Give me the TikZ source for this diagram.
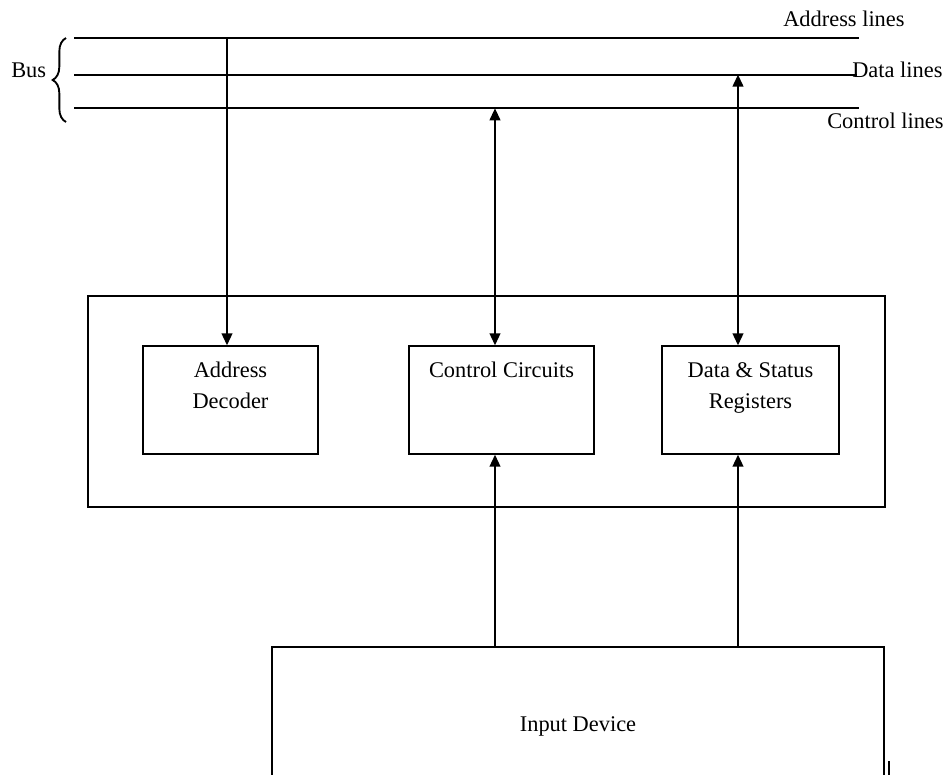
\documentclass[tikz,border=0pt]{standalone}
\usepackage{fontspec}
\setmainfont{Liberation Serif}
\usetikzlibrary{arrows.meta,fit,decorations.pathreplacing}
\begin{document}
\begin{tikzpicture}[x=0.75pt,y=-0.75pt,
  box/.style={draw, line width=1pt, inner sep=0pt},
  busline/.style={line width=1.5pt},
  link/.style={line width=1.5pt},
  >={Triangle[length=9pt,width=8pt]},
  lbl/.style={font=\fontsize{16.8}{20}\selectfont, inner sep=0pt},
]
\useasboundingbox (0,0) rectangle (943,775);
\clip (0,0) rectangle (943,775);

% system bus
\coordinate (aL) at (74,38.3);  \coordinate (aR) at (859,38.3);
\coordinate (dL) at (74,74.6);  \coordinate (dR) at (857,74.6);
\coordinate (cL) at (74,108.3); \coordinate (cR) at (859,108.3);
\draw[busline] (aL) -- (aR);
\draw[busline] (dL) -- (dR);
\draw[busline] (cL) -- (cR);

\coordinate (bB) at (66,122);
\coordinate (bT) at (66,38);
\draw[line width=1.4pt, decorate, decoration={brace, amplitude=10pt}] (bB) -- (bT);
\node[lbl, anchor=base west] (bus) at (11,77) {Bus};

\node[lbl, anchor=base west] (alab) at (783,26)  {Address lines};
\node[lbl, anchor=base west] (dlab) at (852,77)  {Data lines};
\node[lbl, anchor=base west] (clab) at (827,128) {Control lines};

% interface circuit
\node[box, fit={(88,296) (885,507)}] (iface) {};
\node[box, fit={(143,346) (318,454)}] (ad) {};
\node[box, fit={(409,346) (594,454)}] (cc) {};
\node[box, fit={(662,346) (839,454)}] (ds) {};

\node[lbl, anchor=base] (ad1) at (230.5,377) {Address};
\node[lbl, anchor=base] (ad2) at (230.5,408) {Decoder};
\node[lbl, anchor=base] (cc1) at (501.5,377) {Control Circuits};
\node[lbl, anchor=base] (ds1) at (750.5,377) {Data \& Status};
\node[lbl, anchor=base] (ds2) at (750.5,408) {Registers};

% input device
\node[box, fit={(272,647) (884,800)}] (inp) {};
\node[lbl, anchor=base] (inpt) at (578,731) {Input Device};
\coordinate (t1) at (889,761);
\coordinate (t2) at (889,775);
\draw[line width=1pt] (t1) -- (t2);

% connections
\coordinate (aT) at (227,38.3);
\coordinate (cT) at (495,108.3);
\coordinate (dT) at (738,74.6);
\draw[link,->] (aT) -- (aT |- ad.north);
\draw[link,<->] (cT) -- (cT |- cc.north);
\draw[link,<->] (dT) -- (dT |- ds.north);
\draw[link,->] (cT |- inp.north) -- (cT |- cc.south);
\draw[link,->] (dT |- inp.north) -- (dT |- ds.south);
\end{tikzpicture}
\end{document}
